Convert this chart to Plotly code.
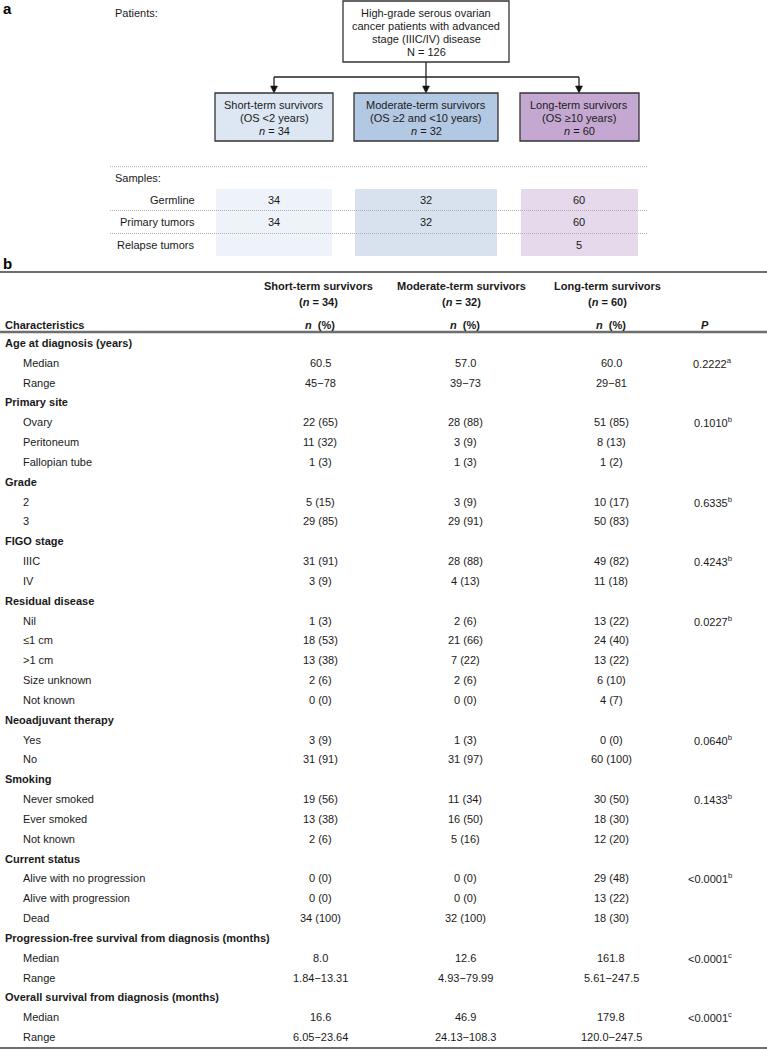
import plotly.graph_objects as go

# ---------------- DATA ----------------
top_box_lines = ["High-grade serous ovarian", "cancer patients with advanced",
                 "stage (IIIC/IV) disease", "N = 126"]
group_names = ["Short-term survivors", "Moderate-term survivors", "Long-term survivors"]
group_criteria = ["(OS <2 years)", "(OS \u22652 and <10 years)", "(OS \u226510 years)"]
group_n = [34, 32, 60]

sample_types = ["Germline", "Primary tumors", "Relapse tumors"]
samples_short = ["34", "34", ""]
samples_moderate = ["32", "32", ""]
samples_long = ["60", "60", "5"]

row_labels = [
    "Age at diagnosis (years)", "Median", "Range",
    "Primary site", "Ovary", "Peritoneum", "Fallopian tube",
    "Grade", "2", "3",
    "FIGO stage", "IIIC", "IV",
    "Residual disease", "Nil", "\u22641 cm", ">1 cm", "Size unknown", "Not known",
    "Neoadjuvant therapy", "Yes", "No",
    "Smoking", "Never smoked", "Ever smoked", "Not known",
    "Current status", "Alive with no progression", "Alive with progression", "Dead",
    "Progression-free survival from diagnosis (months)", "Median", "Range",
    "Overall survival from diagnosis (months)", "Median", "Range",
]
row_is_section = [
    1, 0, 0,
    1, 0, 0, 0,
    1, 0, 0,
    1, 0, 0,
    1, 0, 0, 0, 0, 0,
    1, 0, 0,
    1, 0, 0, 0,
    1, 0, 0, 0,
    1, 0, 0,
    1, 0, 0,
]
short_vals = [
    "", "60.5", "45\u221278",
    "", "22 (65)", "11 (32)", "1 (3)",
    "", "5 (15)", "29 (85)",
    "", "31 (91)", "3 (9)",
    "", "1 (3)", "18 (53)", "13 (38)", "2 (6)", "0 (0)",
    "", "3 (9)", "31 (91)",
    "", "19 (56)", "13 (38)", "2 (6)",
    "", "0 (0)", "0 (0)", "34 (100)",
    "", "8.0", "1.84\u221213.31",
    "", "16.6", "6.05\u221223.64",
]
moderate_vals = [
    "", "57.0", "39\u221273",
    "", "28 (88)", "3 (9)", "1 (3)",
    "", "3 (9)", "29 (91)",
    "", "28 (88)", "4 (13)",
    "", "2 (6)", "21 (66)", "7 (22)", "2 (6)", "0 (0)",
    "", "1 (3)", "31 (97)",
    "", "11 (34)", "16 (50)", "5 (16)",
    "", "0 (0)", "0 (0)", "32 (100)",
    "", "12.6", "4.93\u221279.99",
    "", "46.9", "24.13\u2212108.3",
]
long_vals = [
    "", "60.0", "29\u221281",
    "", "51 (85)", "8 (13)", "1 (2)",
    "", "10 (17)", "50 (83)",
    "", "49 (82)", "11 (18)",
    "", "13 (22)", "24 (40)", "13 (22)", "6 (10)", "4 (7)",
    "", "0 (0)", "60 (100)",
    "", "30 (50)", "18 (30)", "12 (20)",
    "", "29 (48)", "13 (22)", "18 (30)",
    "", "161.8", "5.61\u2212247.5",
    "", "179.8", "120.0\u2212247.5",
]
p_vals = [
    "", "0.2222<sup>a</sup>", "",
    "", "0.1010<sup>b</sup>", "", "",
    "", "0.6335<sup>b</sup>", "",
    "", "0.4243<sup>b</sup>", "",
    "", "0.0227<sup>b</sup>", "", "", "", "",
    "", "0.0640<sup>b</sup>", "",
    "", "0.1433<sup>b</sup>", "", "",
    "", "&lt;0.0001<sup>b</sup>", "", "",
    "", "&lt;0.0001<sup>c</sup>", "",
    "", "&lt;0.0001<sup>c</sup>", "",
]

# ---------------- STYLE / LAYOUT ----------------
W, H = 767, 1050
FONT = "Liberation Sans, Arial, Helvetica, sans-serif"
TXT = "#1a1a1a"
FS = 11
box_fill = ["#dce7f3", "#b3c8e2", "#c5a8d2"]
shade_fill = ["#eef3f9", "#d7e2ee", "#e5d9eb"]
box_x0 = [215, 354, 520]
box_x1 = [333, 498, 639]
col_centers = [274, 426, 579]
tbl_cols = [320, 465, 611]
tbl_head = [318, 461, 607]

shapes = []
ann = []


def text(x, y, s, size=FS, anchor="center", bold=False, color=TXT):
    if bold:
        s = "<b>" + s + "</b>"
    ann.append(dict(x=x, y=y, text=s, showarrow=False, xanchor=anchor, yanchor="middle",
                    font=dict(family=FONT, size=size, color=color), xref="x", yref="y"))


def hline(x0, x1, y, color, width, dash="solid"):
    shapes.append(dict(type="line", x0=x0, x1=x1, y0=y, y1=y, xref="x", yref="y",
                       line=dict(color=color, width=width, dash=dash)))


# panel labels
text(1, 8, "a", size=15, anchor="left", bold=True, color="#000")
text(1, 263, "b", size=15, anchor="left", bold=True, color="#000")

# ---- flowchart ----
text(113, 13, "Patients:", anchor="left")
shapes.append(dict(type="rect", x0=343, x1=509, y0=1, y1=62, xref="x", yref="y",
                   fillcolor="white", line=dict(color="#333", width=1.3)))
for i, s in enumerate(top_box_lines):
    text(426, 12.7 + 13 * i, s)

# connector
shapes.append(dict(type="line", x0=426, x1=426, y0=62, y1=77, xref="x", yref="y",
                   line=dict(color="#222", width=1.3)))
hline(col_centers[0], col_centers[2], 77, "#222", 1.3)
for c in col_centers:
    shapes.append(dict(type="line", x0=c, x1=c, y0=77, y1=88, xref="x", yref="y",
                       line=dict(color="#222", width=1.3)))
    shapes.append(dict(type="path",
                       path="M %.1f,86 L %.1f,86 L %.1f,93 Z" % (c - 3.5, c + 3.5, c),
                       xref="x", yref="y", fillcolor="#111", line=dict(color="#111", width=0.5)))

for i in range(3):
    shapes.append(dict(type="rect", x0=box_x0[i], x1=box_x1[i], y0=93, y1=141,
                       xref="x", yref="y", fillcolor=box_fill[i],
                       line=dict(color="#333", width=1.3)))
    text(col_centers[i], 104.5, group_names[i])
    text(col_centers[i], 117.7, group_criteria[i])
    text(col_centers[i], 131, "<i>n</i> = %d" % group_n[i])

# ---- samples ----
for i in range(3):
    shapes.append(dict(type="rect", x0=box_x0[i] + 1, x1=box_x1[i] - 1, y0=189, y1=256,
                       xref="x", yref="y", fillcolor=shade_fill[i], line=dict(width=0),
                       layer="below"))
hline(110, 648, 166.7, "#b0b0b0", 1, "1px,1px")
hline(110, 648, 210.5, "#b0b0b0", 1, "1px,1px")
hline(110, 648, 233.5, "#b0b0b0", 1, "1px,1px")
text(113, 178, "Samples:", anchor="left")
sample_y = [199.5, 222, 245]
for j, s in enumerate(sample_types):
    text(197, sample_y[j], s, anchor="right")
    for i, vals in enumerate([samples_short, samples_moderate, samples_long]):
        if vals[j]:
            text(col_centers[i], sample_y[j], vals[j])

# ---- table ----
hline(0, W, 272, "#6e6e6e", 2)
hline(0, W, 332, "#6e6e6e", 2.5)
hline(0, W, 1048, "#6e6e6e", 2)
for i in range(3):
    text(tbl_head[i], 286, group_names[i], bold=True)
    text(tbl_head[i], 302, "(<i>n</i> = %d)" % group_n[i], bold=True)
    text(tbl_cols[i], 325, "<i>n</i>  (%)", bold=True)
text(3, 325, "Characteristics", anchor="left", bold=True)
text(705, 325, "<i>P</i>", bold=True)

row0, dy = 343, 19.83
for k, lab in enumerate(row_labels):
    y = row0 + k * dy
    if row_is_section[k]:
        text(3, y, lab, anchor="left", bold=True)
    else:
        text(21, y, lab, anchor="left")
    for i, vals in enumerate([short_vals, moderate_vals, long_vals]):
        if vals[k]:
            text(tbl_cols[i], y, vals[k])
    if p_vals[k]:
        text(734, y, p_vals[k], anchor="right")

fig = go.Figure()
fig.add_trace(go.Scatter(x=[0, W], y=[0, H], mode="markers",
                         marker=dict(opacity=0), hoverinfo="skip", showlegend=False))
fig.update_layout(
    width=W, height=H, margin=dict(l=0, r=0, t=0, b=0),
    paper_bgcolor="white", plot_bgcolor="white",
    xaxis=dict(range=[0, W], visible=False, fixedrange=True),
    yaxis=dict(range=[H, 0], visible=False, fixedrange=True),
    shapes=shapes, annotations=ann, showlegend=False,
)
fig.write_html("out.html", config={"displayModeBar": False},
               post_script="document.body.style.margin='0';document.body.style.overflow='hidden';")
